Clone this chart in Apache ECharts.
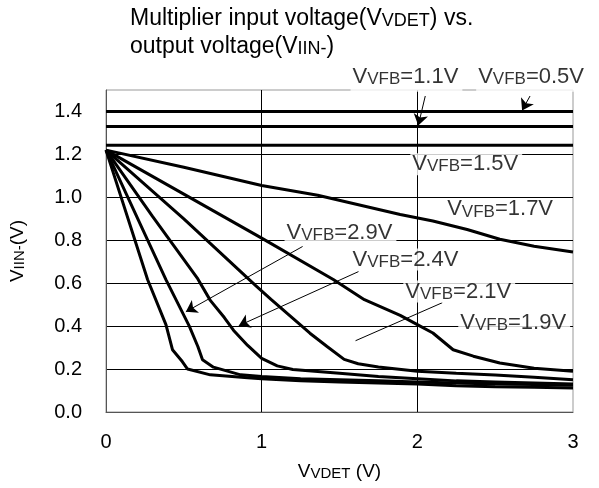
<!DOCTYPE html>
<html>
<head>
<meta charset="utf-8">
<script src="https://cdn.jsdelivr.net/npm/echarts@6/dist/echarts.min.js"></script>
<style>
  html, body { margin: 0; background: #fff; }
  #chart { width: 599px; height: 488px; }
</style>
</head>
<body>
<div id="chart"></div>
<script>
// VVDET (V) on x, VIIN- (V) on y, one array per VFB curve
const vfb05 = [[0, 1.40], [3, 1.40]];
const vfb11 = [[0, 1.33], [3, 1.33]];
const vfb15 = [[0, 1.243], [3, 1.243]];
const vfb17 = [[0, 1.22], [0.5, 1.14], [1.0, 1.055], [1.36, 1.01], [1.89, 0.92], [2.1, 0.89], [2.32, 0.85], [2.53, 0.805], [2.75, 0.772], [3.0, 0.745]];
const vfb19 = [[0, 1.22], [0.5, 1.015], [1.0, 0.81], [1.46, 0.617], [1.66, 0.523], [1.89, 0.45], [2.0, 0.407], [2.1, 0.368], [2.23, 0.29], [2.36, 0.26], [2.53, 0.228], [2.75, 0.204], [3.0, 0.19]];
const vfb21 = [[0, 1.22], [0.5, 0.90], [0.96, 0.59], [1.06, 0.525], [1.21, 0.43], [1.31, 0.367], [1.42, 0.305], [1.53, 0.245], [1.62, 0.225], [1.75, 0.21], [2.0, 0.19], [2.25, 0.18], [2.5, 0.172], [2.75, 0.162], [3.0, 0.15]];
const vfb24 = [[0, 1.22], [0.3, 0.91], [0.59, 0.62], [0.67, 0.52], [0.76, 0.44], [0.82, 0.38], [0.91, 0.31], [1.0, 0.25], [1.1, 0.215], [1.2, 0.198], [1.5, 0.18], [1.75, 0.165], [2.0, 0.155], [2.25, 0.145], [2.5, 0.14], [2.75, 0.135], [3.0, 0.13]];
const vfb29 = [[0, 1.22], [0.385, 0.617], [0.535, 0.40], [0.59, 0.305], [0.62, 0.243], [0.69, 0.209], [0.865, 0.173], [1.0, 0.165], [1.25, 0.155], [1.5, 0.15], [1.75, 0.145], [2.0, 0.14], [2.25, 0.135], [2.5, 0.13], [2.75, 0.128], [3.0, 0.125]];
const vfbSteep = [[0, 1.22], [0.267, 0.617], [0.385, 0.407], [0.427, 0.29], [0.49, 0.235], [0.524, 0.20], [0.67, 0.173], [0.91, 0.16], [1.0, 0.155], [1.25, 0.145], [1.5, 0.14], [1.75, 0.135], [2.0, 0.13], [2.25, 0.122], [2.5, 0.118], [2.75, 0.115], [3.0, 0.112]];

const curves = [vfb05, vfb11, vfb15, vfb17, vfb19, vfb21, vfb24, vfb29, vfbSteep];

// annotation texts and where they sit (data coords)
const labelTexts = ['1.1V', '0.5V', '1.5V', '1.7V', '2.9V', '2.4V', '2.1V', '1.9V'];
const labelAt = [[1.571, 1.552], [2.378, 1.552], [1.955, 1.154], [2.179, 0.944], [1.147, 0.836], [1.571, 0.710], [1.910, 0.561], [2.263, 0.416]];

// pointer lines: from, to, with arrow head or not
const arrowFrom = [[2.051, 1.472], [2.724, 1.472], [1.263, 0.771], [1.622, 0.654], [2.160, 0.509]];
const arrowTo = [[2.006, 1.335], [2.673, 1.405], [0.513, 0.467], [0.853, 0.402], [1.603, 0.332]];
const arrowHead = [true, true, true, true, false];

const FONT = 'Liberation Sans, Arial, sans-serif';

// main text + smaller subscript on the same baseline
function richStyle(main, sub, lh) {
  return {
    m: { fontSize: main, fontFamily: FONT, fontWeight: 'normal', color: '#000', lineHeight: lh, verticalAlign: 'bottom' },
    s: { fontSize: sub, fontFamily: FONT, fontWeight: 'normal', color: '#000', lineHeight: lh - 0.7 * (main - sub), verticalAlign: 'bottom' }
  };
}

const chart = echarts.init(document.getElementById('chart'));

const lineSeries = curves.map(d => ({
  type: 'line',
  data: d,
  showSymbol: false,
  symbol: 'none',
  silent: true,
  z: 3,
  lineStyle: { color: '#000', width: 3 }
}));

const option = {
  animation: false,
  title: {
    text: '{m|Multiplier input voltage(V}{s|VDET}{m|) vs.}\n{m|output voltage(V}{s|IIN-}{m|)}',
    left: 130,
    top: 2,
    padding: 0,
    textStyle: { fontWeight: 'normal', rich: richStyle(23, 18, 28) }
  },
  grid: {
    left: 105, right: 26, top: 90, bottom: 76,
    show: true, borderColor: '#999', borderWidth: 1
  },
  xAxis: {
    type: 'value',
    min: 0, max: 3, interval: 1,
    axisLine: { show: true, lineStyle: { color: '#555', width: 1 } },
    axisTick: { show: false },
    axisLabel: { color: '#000', fontSize: 20, fontFamily: FONT, margin: 20 },
    splitLine: { show: true, showMinLine: false, showMaxLine: false, lineStyle: { color: '#000', width: 1 } },
    name: '{m|V}{s|VDET}{m| (V)}',
    nameLocation: 'middle',
    nameGap: 47,
    nameTextStyle: { rich: richStyle(19, 15, 22) }
  },
  yAxis: {
    type: 'value',
    min: 0, max: 1.5, interval: 0.2,
    axisLine: { show: true, lineStyle: { color: '#555', width: 1 } },
    axisTick: { show: false },
    axisLabel: {
      color: '#000', fontSize: 20, fontFamily: FONT, margin: 24,
      showMaxLabel: false,
      formatter: v => v.toFixed(1)
    },
    splitLine: { show: true, showMinLine: false, showMaxLine: false, lineStyle: { color: '#000', width: 1 } },
    name: '{m|V}{s|IIN-}{m|(V)}',
    nameLocation: 'middle',
    nameRotate: 90,
    nameGap: 79,
    nameTextStyle: { rich: richStyle(19, 15, 22) }
  },
  series: lineSeries.concat([{
    type: 'scatter',
    name: 'notes',
    symbolSize: 0,
    clip: false,
    silent: true,
    z: 5,
    // the two top notes hang over the plot border, so their boxes reach a bit lower
    data: labelAt.map((p, i) => ({
      value: p,
      name: labelTexts[i],
      label: i < 2 ? { padding: [0, 4, 4, 2] } : undefined
    })),
    label: {
      show: true,
      position: 'right',
      distance: 0,
      backgroundColor: '#fff',
      padding: [0, 4, 0, 2],
      formatter: p => '{m|V}{s|VFB}{m|=' + p.name + '}',
      rich: richStyle(22, 17, 22)
    },
    markLine: {
      silent: true,
      animation: false,
      symbolSize: 11,
      label: { show: false },
      lineStyle: { color: '#000', width: 1, type: 'solid' },
      data: arrowFrom.map((p, i) => [
        { coord: p, symbol: 'none' },
        { coord: arrowTo[i], symbol: arrowHead[i] ? 'arrow' : 'none' }
      ])
    }
  }])
};

chart.setOption(option);
</script>
</body>
</html>
